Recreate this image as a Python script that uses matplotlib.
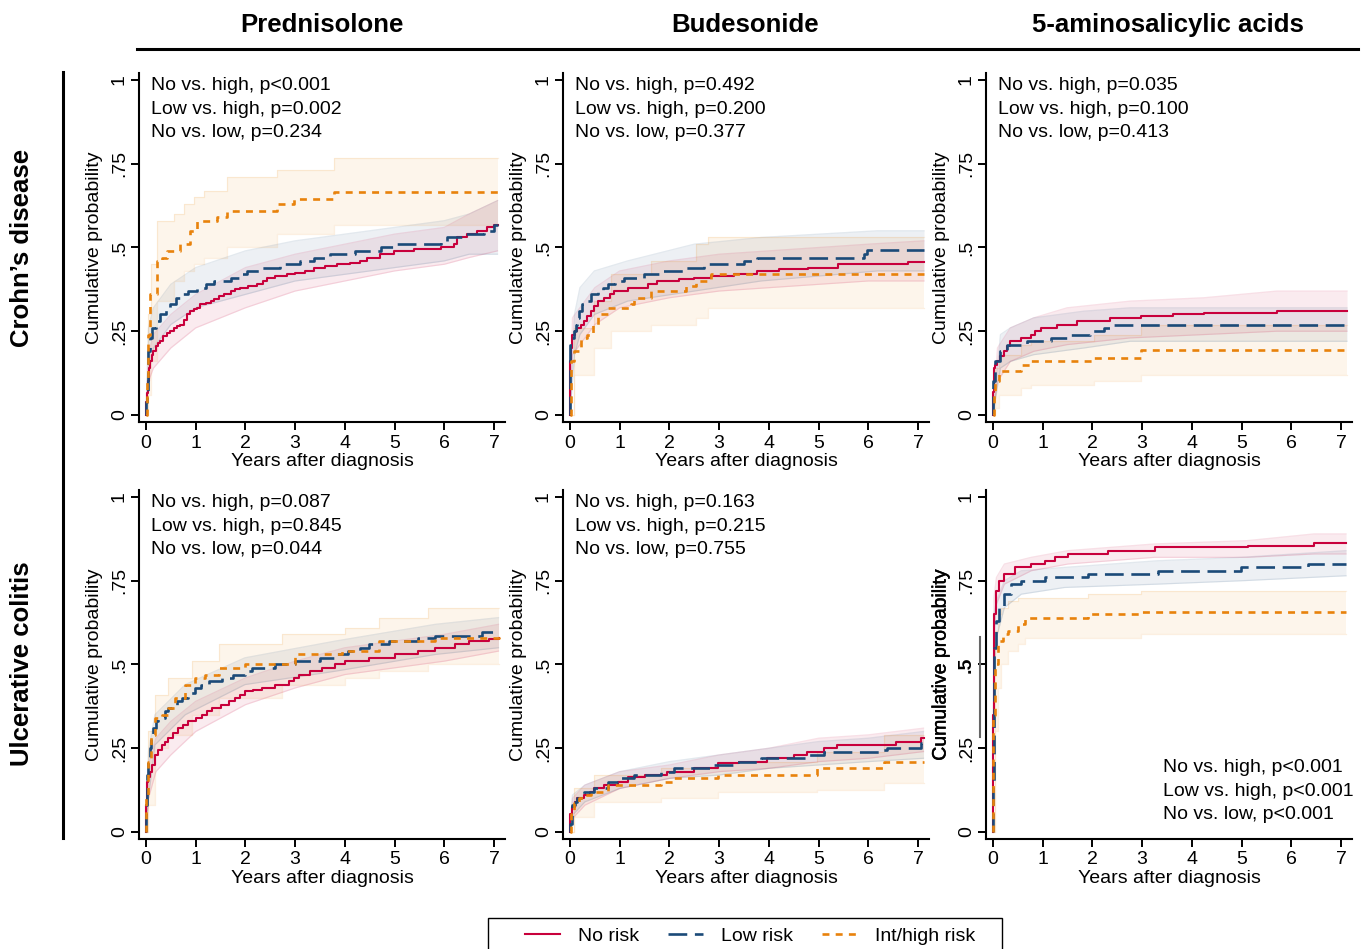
import matplotlib
matplotlib.use('Agg')
import matplotlib.pyplot as plt
import matplotlib.patheffects as pe
from matplotlib.lines import Line2D
from matplotlib.patches import Rectangle

plt.rcParams['font.family'] = ['Liberation Sans', 'DejaVu Sans']
plt.rcParams['lines.scale_dashes'] = False

# ---------------- data ----------------
columns = ['Prednisolone', 'Budesonide', '5-aminosalicylic acids']
rows = ['Crohn\u2019s disease', 'Ulcerative colitis']
series_labels = ['No risk', 'Low risk', 'Int/high risk']
yticks = [0, 0.25, 0.5, 0.75, 1]
ytick_labels = ['0', '.25', '.5', '.75', '1']
xticks = [0, 1, 2, 3, 4, 5, 6, 7]

# Crohn's disease - Prednisolone
cd_pred_no_t = [0, 0.01, 0.02, 0.04, 0.06, 0.09, 0.12, 0.15, 0.2, 0.25, 0.29, 0.35, 0.42, 0.49, 0.56, 0.62, 0.69, 0.76, 0.82, 0.89, 0.96, 1.02, 1.09, 1.2, 1.3, 1.36, 1.46, 1.56, 1.7, 1.8, 1.9, 2.05, 2.23, 2.35, 2.44, 2.6, 2.84, 3.0, 3.2, 3.38, 3.6, 3.85, 4.1, 4.3, 4.45, 4.7, 4.99, 5.4, 5.93, 6.19, 6.26, 6.45, 6.66, 6.85, 7.0, 7.07]
cd_pred_no_y = [0, 0.04, 0.065, 0.10, 0.14, 0.16, 0.18, 0.19, 0.205, 0.215, 0.22, 0.235, 0.245, 0.25, 0.26, 0.265, 0.27, 0.285, 0.30, 0.31, 0.315, 0.32, 0.33, 0.335, 0.34, 0.345, 0.355, 0.36, 0.37, 0.375, 0.38, 0.385, 0.39, 0.40, 0.41, 0.415, 0.42, 0.425, 0.43, 0.44, 0.445, 0.45, 0.455, 0.46, 0.47, 0.48, 0.49, 0.495, 0.50, 0.51, 0.53, 0.54, 0.55, 0.56, 0.567, 0.567]
cd_pred_no_ct = [0, 0.05, 0.15, 0.5, 1.0, 2.0, 3.0, 4.0, 5.0, 6.0, 6.5, 7.07]
cd_pred_no_lo = [0, 0.10, 0.14, 0.20, 0.26, 0.32, 0.37, 0.40, 0.43, 0.45, 0.47, 0.49]
cd_pred_no_hi = [0, 0.18, 0.24, 0.30, 0.36, 0.44, 0.48, 0.51, 0.54, 0.56, 0.60, 0.64]
cd_pred_low_t = [0, 0.01, 0.02, 0.04, 0.05, 0.08, 0.12, 0.2, 0.29, 0.4, 0.49, 0.6, 0.69, 0.85, 1.03, 1.2, 1.36, 1.7, 1.9, 2.03, 2.3, 2.7, 3.1, 3.38, 3.71, 4.2, 4.72, 5.05, 5.93, 6.06, 6.4, 6.8, 7.0, 7.07]
cd_pred_low_y = [0, 0.04, 0.06, 0.15, 0.19, 0.23, 0.26, 0.28, 0.30, 0.32, 0.33, 0.35, 0.36, 0.37, 0.38, 0.39, 0.40, 0.41, 0.42, 0.43, 0.44, 0.45, 0.46, 0.47, 0.48, 0.49, 0.50, 0.51, 0.52, 0.53, 0.54, 0.55, 0.567, 0.567]
cd_pred_low_ct = [0, 0.05, 0.15, 0.5, 1.0, 2.0, 3.0, 4.0, 5.0, 6.0, 6.5, 7.07]
cd_pred_low_lo = [0, 0.12, 0.20, 0.27, 0.32, 0.36, 0.40, 0.42, 0.44, 0.46, 0.48, 0.48]
cd_pred_low_hi = [0, 0.26, 0.32, 0.39, 0.44, 0.49, 0.52, 0.54, 0.56, 0.58, 0.60, 0.64]
cd_pred_high_t = [0, 0.02, 0.05, 0.09, 0.22, 0.32, 0.42, 0.69, 0.89, 1.03, 1.43, 1.63, 2.64, 2.97, 3.78, 7.07]
cd_pred_high_y = [0, 0.10, 0.24, 0.36, 0.46, 0.47, 0.49, 0.51, 0.55, 0.58, 0.59, 0.61, 0.63, 0.645, 0.667, 0.667]
cd_pred_high_ct = [0, 0.05, 0.10, 0.22, 0.56, 0.76, 0.96, 1.16, 1.63, 2.64, 3.78, 7.07]
cd_pred_high_lo = [0, 0.06, 0.16, 0.34, 0.40, 0.43, 0.45, 0.47, 0.50, 0.54, 0.567, 0.567]
cd_pred_high_hi = [0, 0.30, 0.45, 0.58, 0.60, 0.63, 0.65, 0.67, 0.71, 0.73, 0.766, 0.766]

# Crohn's disease - Budesonide
cd_bud_no_t = [0, 0.01, 0.03, 0.05, 0.1, 0.15, 0.22, 0.29, 0.35, 0.42, 0.49, 0.56, 0.69, 0.8, 0.89, 1.16, 1.56, 1.76, 2.2, 2.5, 2.83, 3.3, 3.77, 4.2, 4.78, 5.38, 6.79, 7.12]
cd_bud_no_y = [0, 0.16, 0.20, 0.24, 0.25, 0.26, 0.27, 0.28, 0.295, 0.31, 0.325, 0.34, 0.35, 0.36, 0.37, 0.38, 0.39, 0.40, 0.405, 0.41, 0.415, 0.42, 0.43, 0.435, 0.44, 0.45, 0.456, 0.456]
cd_bud_no_ct = [0, 0.05, 0.2, 0.5, 1.0, 2.0, 3.0, 4.0, 5.0, 6.0, 7.12]
cd_bud_no_lo = [0, 0.18, 0.21, 0.27, 0.32, 0.35, 0.37, 0.38, 0.39, 0.40, 0.40]
cd_bud_no_hi = [0, 0.29, 0.32, 0.38, 0.43, 0.46, 0.48, 0.49, 0.50, 0.51, 0.52]
cd_bud_low_t = [0, 0.01, 0.05, 0.09, 0.12, 0.15, 0.19, 0.25, 0.32, 0.42, 0.56, 0.66, 0.76, 0.9, 1.09, 1.49, 1.83, 2.3, 2.7, 3.5, 3.77, 5.91, 5.98, 7.12]
cd_bud_low_y = [0, 0.21, 0.23, 0.25, 0.27, 0.29, 0.31, 0.33, 0.34, 0.36, 0.37, 0.38, 0.39, 0.40, 0.41, 0.42, 0.43, 0.44, 0.45, 0.46, 0.47, 0.48, 0.493, 0.493]
cd_bud_low_ct = [0, 0.09, 0.2, 0.49, 1.16, 2.5, 3.84, 6.18, 7.12]
cd_bud_low_lo = [0, 0.18, 0.24, 0.30, 0.34, 0.37, 0.40, 0.43, 0.43]
cd_bud_low_hi = [0, 0.30, 0.38, 0.43, 0.46, 0.51, 0.53, 0.55, 0.55]
cd_bud_high_t = [0, 0.02, 0.09, 0.22, 0.35, 0.46, 0.56, 0.76, 1.23, 1.29, 1.63, 2.33, 2.53, 2.83, 7.12]
cd_bud_high_y = [0, 0.16, 0.19, 0.23, 0.24, 0.27, 0.30, 0.32, 0.33, 0.35, 0.37, 0.385, 0.40, 0.42, 0.42]
cd_bud_high_ct = [0, 0.09, 0.49, 0.82, 1.63, 2.53, 2.77, 7.12]
cd_bud_high_lo = [0, 0.12, 0.20, 0.25, 0.27, 0.29, 0.32, 0.32]
cd_bud_high_hi = [0, 0.26, 0.34, 0.42, 0.46, 0.51, 0.53, 0.53]

# Crohn's disease - 5-ASA
cd_asa_no_t = [0, 0.005, 0.02, 0.05, 0.09, 0.15, 0.22, 0.29, 0.35, 0.56, 0.76, 0.85, 0.96, 1.29, 1.69, 2.36, 2.97, 3.63, 4.24, 5.71, 7.12]
cd_asa_no_y = [0, 0.07, 0.14, 0.15, 0.16, 0.175, 0.19, 0.205, 0.22, 0.23, 0.24, 0.25, 0.26, 0.27, 0.28, 0.29, 0.295, 0.30, 0.305, 0.31, 0.31]
cd_asa_no_ct = [0, 0.09, 0.35, 0.82, 1.49, 2.76, 4.24, 5.71, 7.12]
cd_asa_no_lo = [0, 0.10, 0.16, 0.19, 0.21, 0.23, 0.24, 0.25, 0.25]
cd_asa_no_hi = [0, 0.20, 0.26, 0.29, 0.32, 0.34, 0.35, 0.37, 0.37]
cd_asa_low_t = [0, 0.005, 0.05, 0.15, 0.29, 0.69, 1.16, 1.56, 1.96, 2.23, 2.36, 7.12]
cd_asa_low_y = [0, 0.10, 0.16, 0.19, 0.21, 0.22, 0.23, 0.24, 0.25, 0.26, 0.27, 0.27]
cd_asa_low_ct = [0, 0.15, 0.35, 0.82, 1.83, 2.76, 7.12]
cd_asa_low_lo = [0, 0.14, 0.16, 0.18, 0.20, 0.22, 0.22]
cd_asa_low_hi = [0, 0.24, 0.26, 0.29, 0.31, 0.32, 0.32]
cd_asa_high_t = [0, 0.02, 0.05, 0.12, 0.56, 0.76, 2.03, 2.97, 7.12]
cd_asa_high_y = [0, 0.07, 0.10, 0.13, 0.15, 0.16, 0.17, 0.195, 0.195]
cd_asa_high_ct = [0, 0.05, 0.12, 0.56, 0.76, 2.03, 2.97, 7.12]
cd_asa_high_lo = [0, 0.02, 0.06, 0.08, 0.09, 0.10, 0.12, 0.12]
cd_asa_high_hi = [0, 0.14, 0.18, 0.21, 0.22, 0.24, 0.27, 0.27]

# Ulcerative colitis - Prednisolone
uc_pred_no_t = [0, 0.01, 0.03, 0.05, 0.08, 0.12, 0.18, 0.25, 0.32, 0.38, 0.45, 0.55, 0.65, 0.75, 0.85, 1.0, 1.12, 1.22, 1.32, 1.5, 1.66, 1.8, 1.9, 1.99, 2.15, 2.33, 2.6, 2.87, 2.97, 3.07, 3.3, 3.54, 3.8, 4.01, 4.48, 5.01, 5.48, 5.82, 6.22, 6.49, 6.9, 7.09]
uc_pred_no_y = [0, 0.08, 0.15, 0.165, 0.18, 0.20, 0.23, 0.245, 0.26, 0.27, 0.28, 0.295, 0.31, 0.32, 0.33, 0.34, 0.35, 0.36, 0.37, 0.38, 0.39, 0.40, 0.41, 0.42, 0.425, 0.43, 0.44, 0.45, 0.46, 0.47, 0.48, 0.49, 0.50, 0.51, 0.52, 0.53, 0.54, 0.55, 0.56, 0.57, 0.575, 0.58]
uc_pred_no_ct = [0, 0.05, 0.2, 0.5, 1.0, 2.0, 3.0, 4.0, 5.0, 6.0, 7.09]
uc_pred_no_lo = [0, 0.10, 0.18, 0.23, 0.30, 0.38, 0.43, 0.47, 0.49, 0.51, 0.54]
uc_pred_no_hi = [0, 0.20, 0.28, 0.33, 0.39, 0.46, 0.51, 0.55, 0.57, 0.59, 0.62]
uc_pred_low_t = [0, 0.01, 0.03, 0.05, 0.08, 0.11, 0.15, 0.2, 0.25, 0.38, 0.45, 0.52, 0.62, 0.72, 0.85, 0.99, 1.1, 1.26, 1.52, 1.75, 1.99, 2.13, 2.6, 3.0, 3.5, 3.81, 4.07, 4.3, 4.48, 4.88, 5.48, 5.82, 6.76, 7.09]
uc_pred_low_y = [0, 0.08, 0.17, 0.21, 0.25, 0.28, 0.31, 0.33, 0.34, 0.36, 0.37, 0.38, 0.39, 0.40, 0.415, 0.43, 0.44, 0.45, 0.46, 0.47, 0.48, 0.49, 0.50, 0.51, 0.52, 0.53, 0.54, 0.55, 0.56, 0.57, 0.58, 0.585, 0.597, 0.597]
uc_pred_low_ct = [0, 0.05, 0.18, 0.79, 1.99, 3.81, 5.82, 7.09]
uc_pred_low_lo = [0, 0.10, 0.26, 0.35, 0.44, 0.48, 0.53, 0.55]
uc_pred_low_hi = [0, 0.24, 0.35, 0.44, 0.52, 0.57, 0.62, 0.64]
uc_pred_high_t = [0, 0.01, 0.05, 0.11, 0.18, 0.32, 0.45, 0.58, 0.79, 0.99, 1.19, 1.46, 1.99, 3.0, 3.94, 4.68, 5.82, 7.09]
uc_pred_high_y = [0, 0.10, 0.21, 0.29, 0.34, 0.35, 0.37, 0.40, 0.44, 0.46, 0.47, 0.49, 0.50, 0.53, 0.54, 0.57, 0.58, 0.587]
uc_pred_high_ct = [0, 0.05, 0.18, 0.45, 0.92, 1.46, 2.73, 4.01, 4.68, 5.68, 7.09]
uc_pred_high_lo = [0, 0.08, 0.25, 0.29, 0.35, 0.40, 0.44, 0.46, 0.48, 0.50, 0.50]
uc_pred_high_hi = [0, 0.30, 0.41, 0.46, 0.51, 0.56, 0.59, 0.61, 0.64, 0.67, 0.67]

# Ulcerative colitis - Budesonide
uc_bud_no_t = [0, 0.005, 0.05, 0.1, 0.15, 0.29, 0.4, 0.49, 0.69, 0.96, 1.16, 1.5, 1.96, 2.5, 2.97, 3.4, 3.97, 4.5, 4.77, 5.11, 5.37, 6.55, 7.05, 7.11]
uc_bud_no_y = [0, 0.055, 0.075, 0.09, 0.10, 0.11, 0.12, 0.13, 0.14, 0.15, 0.165, 0.17, 0.18, 0.19, 0.205, 0.21, 0.22, 0.23, 0.24, 0.25, 0.26, 0.27, 0.28, 0.28]
uc_bud_no_ct = [0, 0.05, 0.3, 1.0, 2.0, 3.0, 4.0, 5.0, 6.0, 7.11]
uc_bud_no_lo = [0, 0.04, 0.08, 0.13, 0.16, 0.18, 0.19, 0.21, 0.22, 0.24]
uc_bud_no_hi = [0, 0.10, 0.14, 0.18, 0.20, 0.23, 0.25, 0.28, 0.29, 0.31]
uc_bud_low_t = [0, 0.005, 0.05, 0.1, 0.15, 0.22, 0.29, 0.49, 0.76, 0.96, 1.29, 1.83, 2.1, 2.9, 3.3, 3.84, 4.77, 5.11, 6.24, 6.38, 7.05, 7.11]
uc_bud_low_y = [0, 0.025, 0.08, 0.09, 0.10, 0.11, 0.12, 0.13, 0.15, 0.16, 0.17, 0.18, 0.19, 0.20, 0.21, 0.22, 0.23, 0.24, 0.245, 0.25, 0.265, 0.265]
uc_bud_low_ct = [0, 0.05, 0.3, 1.0, 2.0, 3.0, 4.0, 5.0, 6.0, 7.11]
uc_bud_low_lo = [0, 0.05, 0.09, 0.13, 0.16, 0.17, 0.19, 0.20, 0.21, 0.22]
uc_bud_low_hi = [0, 0.11, 0.14, 0.18, 0.21, 0.23, 0.25, 0.27, 0.28, 0.30]
uc_bud_high_t = [0, 0.02, 0.09, 0.19, 0.29, 0.42, 0.76, 1.83, 2.10, 2.97, 4.97, 6.31, 7.11]
uc_bud_high_y = [0, 0.055, 0.085, 0.10, 0.11, 0.12, 0.14, 0.15, 0.16, 0.17, 0.19, 0.21, 0.21]
uc_bud_high_ct = [0, 0.09, 0.49, 1.83, 2.97, 4.97, 6.31, 7.11]
uc_bud_high_lo = [0, 0.045, 0.09, 0.10, 0.12, 0.125, 0.145, 0.145]
uc_bud_high_hi = [0, 0.13, 0.17, 0.19, 0.21, 0.24, 0.29, 0.29]

# Ulcerative colitis - 5-ASA
uc_asa_no_t = [0, 0.003, 0.02, 0.07, 0.13, 0.23, 0.44, 0.77, 1.04, 1.24, 1.51, 2.31, 3.25, 5.12, 6.46, 7.10]
uc_asa_no_y = [0, 0.35, 0.65, 0.72, 0.75, 0.77, 0.79, 0.80, 0.81, 0.82, 0.83, 0.84, 0.85, 0.853, 0.863, 0.863]
uc_asa_no_ct = [0, 0.02, 0.07, 0.23, 0.77, 1.51, 3.25, 5.12, 6.46, 7.10]
uc_asa_no_lo = [0, 0.58, 0.68, 0.74, 0.78, 0.80, 0.82, 0.82, 0.83, 0.83]
uc_asa_no_hi = [0, 0.70, 0.76, 0.80, 0.82, 0.84, 0.86, 0.87, 0.89, 0.89]
uc_asa_low_t = [0, 0.003, 0.02, 0.07, 0.13, 0.23, 0.37, 0.57, 1.04, 1.91, 3.32, 4.99, 6.33, 7.10]
uc_asa_low_y = [0, 0.15, 0.55, 0.63, 0.67, 0.71, 0.74, 0.75, 0.76, 0.77, 0.78, 0.79, 0.80, 0.80]
uc_asa_low_ct = [0, 0.02, 0.07, 0.23, 0.57, 1.44, 3.32, 4.99, 7.10]
uc_asa_low_lo = [0, 0.45, 0.58, 0.67, 0.71, 0.73, 0.74, 0.75, 0.765]
uc_asa_low_hi = [0, 0.65, 0.69, 0.75, 0.78, 0.79, 0.81, 0.82, 0.84]
uc_asa_high_t = [0, 0.003, 0.05, 0.10, 0.20, 0.30, 0.50, 0.64, 1.91, 2.98, 7.10]
uc_asa_high_y = [0, 0.35, 0.50, 0.57, 0.59, 0.60, 0.62, 0.64, 0.65, 0.657, 0.657]
uc_asa_high_ct = [0, 0.05, 0.10, 0.17, 0.30, 0.50, 0.64, 1.91, 2.98, 7.10]
uc_asa_high_lo = [0, 0.30, 0.43, 0.50, 0.54, 0.56, 0.58, 0.58, 0.59, 0.59]
uc_asa_high_hi = [0, 0.60, 0.65, 0.67, 0.69, 0.70, 0.70, 0.71, 0.72, 0.72]

# p-value annotations
cd_pred_p = ['No vs. high, p<0.001', 'Low vs. high, p=0.002', 'No vs. low, p=0.234']
cd_bud_p = ['No vs. high, p=0.492', 'Low vs. high, p=0.200', 'No vs. low, p=0.377']
cd_asa_p = ['No vs. high, p=0.035', 'Low vs. high, p=0.100', 'No vs. low, p=0.413']
uc_pred_p = ['No vs. high, p=0.087', 'Low vs. high, p=0.845', 'No vs. low, p=0.044']
uc_bud_p = ['No vs. high, p=0.163', 'Low vs. high, p=0.215', 'No vs. low, p=0.755']
uc_asa_p = ['No vs. high, p<0.001', 'Low vs. high, p<0.001', 'No vs. low, p<0.001']

# ---------------- styling ----------------
W, H = 1361, 949
fig = plt.figure(figsize=(W / 100, H / 100), dpi=100)

RED = '#C8003C'
NAVY = '#1B4A78'
ORANGE = '#E8820C'
colors = [RED, NAVY, ORANGE]
dash_styles = [None, (13.5, 5.5), (5.0, 4.5)]
lws = [1.5, 1.9, 1.9]
band_step = [False, False, True]
FS = 14

panels = [
    [(cd_pred_no_t, cd_pred_no_y, cd_pred_no_ct, cd_pred_no_lo, cd_pred_no_hi),
     (cd_pred_low_t, cd_pred_low_y, cd_pred_low_ct, cd_pred_low_lo, cd_pred_low_hi),
     (cd_pred_high_t, cd_pred_high_y, cd_pred_high_ct, cd_pred_high_lo, cd_pred_high_hi)],
    [(cd_bud_no_t, cd_bud_no_y, cd_bud_no_ct, cd_bud_no_lo, cd_bud_no_hi),
     (cd_bud_low_t, cd_bud_low_y, cd_bud_low_ct, cd_bud_low_lo, cd_bud_low_hi),
     (cd_bud_high_t, cd_bud_high_y, cd_bud_high_ct, cd_bud_high_lo, cd_bud_high_hi)],
    [(cd_asa_no_t, cd_asa_no_y, cd_asa_no_ct, cd_asa_no_lo, cd_asa_no_hi),
     (cd_asa_low_t, cd_asa_low_y, cd_asa_low_ct, cd_asa_low_lo, cd_asa_low_hi),
     (cd_asa_high_t, cd_asa_high_y, cd_asa_high_ct, cd_asa_high_lo, cd_asa_high_hi)],
    [(uc_pred_no_t, uc_pred_no_y, uc_pred_no_ct, uc_pred_no_lo, uc_pred_no_hi),
     (uc_pred_low_t, uc_pred_low_y, uc_pred_low_ct, uc_pred_low_lo, uc_pred_low_hi),
     (uc_pred_high_t, uc_pred_high_y, uc_pred_high_ct, uc_pred_high_lo, uc_pred_high_hi)],
    [(uc_bud_no_t, uc_bud_no_y, uc_bud_no_ct, uc_bud_no_lo, uc_bud_no_hi),
     (uc_bud_low_t, uc_bud_low_y, uc_bud_low_ct, uc_bud_low_lo, uc_bud_low_hi),
     (uc_bud_high_t, uc_bud_high_y, uc_bud_high_ct, uc_bud_high_lo, uc_bud_high_hi)],
    [(uc_asa_no_t, uc_asa_no_y, uc_asa_no_ct, uc_asa_no_lo, uc_asa_no_hi),
     (uc_asa_low_t, uc_asa_low_y, uc_asa_low_ct, uc_asa_low_lo, uc_asa_low_hi),
     (uc_asa_high_t, uc_asa_high_y, uc_asa_high_ct, uc_asa_high_lo, uc_asa_high_hi)],
]
pvals = [cd_pred_p, cd_bud_p, cd_asa_p, uc_pred_p, uc_bud_p, uc_asa_p]

col_left = [139, 563, 986]
col_w = 366
row_top = [73, 490]
row_h = 349


def px_axes(l, t, w, h):
    return fig.add_axes([l / W, 1 - (t + h) / H, w / W, h / H])


for idx in range(6):
    r, c = divmod(idx, 3)
    ax = px_axes(col_left[c], row_top[r], col_w, row_h)
    data = panels[idx]
    for k, (t, y, ct, lo, hi) in enumerate(data):
        if band_step[k]:
            ax.fill_between(ct, lo, hi, step='post', color=colors[k], alpha=0.08, lw=0)
            ax.step(ct, lo, where='post', color=colors[k], alpha=0.12, lw=0.9)
            ax.step(ct, hi, where='post', color=colors[k], alpha=0.12, lw=0.9)
        else:
            ax.fill_between(ct, lo, hi, color=colors[k], alpha=0.08, lw=0)
            ax.plot(ct, lo, color=colors[k], alpha=0.12, lw=0.9)
            ax.plot(ct, hi, color=colors[k], alpha=0.12, lw=0.9)
    for k, (t, y, ct, lo, hi) in enumerate(data):
        ln, = ax.step(t, y, where='post', color=colors[k], lw=lws[k])
        if dash_styles[k] is not None:
            ln.set_dashes(dash_styles[k])
    ax.set_xlim(-0.14, 7.22)
    ax.set_ylim(-0.021, 1.021)
    ax.set_xticks(xticks)
    ax.set_yticks(yticks)
    ax.set_yticklabels(ytick_labels, rotation=90, va='center')
    ax.tick_params(axis='both', labelsize=FS, length=6, width=1.4, color='black', pad=3)
    ax.tick_params(axis='y', pad=2)
    for s in ['top', 'right']:
        ax.spines[s].set_visible(False)
    for s in ['left', 'bottom']:
        ax.spines[s].set_linewidth(1.5)
    ax.set_xlabel('Years after diagnosis', fontsize=FS, labelpad=1)
    ylab = ax.set_ylabel('Cumulative probability', fontsize=FS, labelpad=6)
    if idx == 5:
        ys = [0.204, 0.135, 0.069]
        for txt, yy in zip(pvals[idx], ys):
            ax.text(0.484, yy, txt, transform=ax.transAxes, fontsize=FS, ha='left', va='center')
        # the reference shows a slightly heavier label / bold .5 and a grey mark in this panel
        ylab.set_path_effects([pe.withStroke(linewidth=0.35, foreground='black')])
        ax.get_yticklabels()[2].set_fontweight('bold')
        fig.add_artist(Line2D([980 / W, 980 / W], [1 - 637 / H, 1 - 737 / H], color='#666666',
                              lw=1.5, transform=fig.transFigure))
    else:
        ys = [0.964, 0.896, 0.830]
        for txt, yy in zip(pvals[idx], ys):
            ax.text(0.033, yy, txt, transform=ax.transAxes, fontsize=FS, ha='left', va='center')

# column headers and separator line
col_centers = [322, 745, 1168]
for name, cx in zip(columns, col_centers):
    fig.text(cx / W, 1 - 25 / H, name, ha='center', va='center', fontsize=18.5, fontweight='bold')
fig.add_artist(Line2D([137 / W, 1358 / W], [1 - 49 / H, 1 - 49 / H], color='black', lw=2.2,
                      transform=fig.transFigure))

# row labels and separator line
row_centers = [248, 664]
for name, cy in zip(rows, row_centers):
    fig.text(22 / W, 1 - cy / H, name, ha='center', va='center', rotation=90, fontsize=18.5,
             fontweight='bold')
fig.add_artist(Line2D([63 / W, 63 / W], [1 - 72 / H, 1 - 838 / H], color='black', lw=2.2,
                      transform=fig.transFigure))

# legend
handles = []
for k in range(3):
    h = Line2D([0], [0], color=colors[k], lw=lws[k])
    if dash_styles[k] is not None:
        h.set_dashes(dash_styles[k])
    handles.append(h)
fig.legend(handles, series_labels, loc='center', bbox_to_anchor=(750 / W, 1 - 936 / H), ncol=3,
           frameon=False, fontsize=FS, handlelength=1.8, handletextpad=0.93, columnspacing=1.5)
fig.add_artist(Rectangle((488 / W, 1 - 962 / H), 514 / W, 44 / H, transform=fig.transFigure,
                         fill=False, ec='black', lw=1.0))

fig.savefig('out.png', dpi=100)
